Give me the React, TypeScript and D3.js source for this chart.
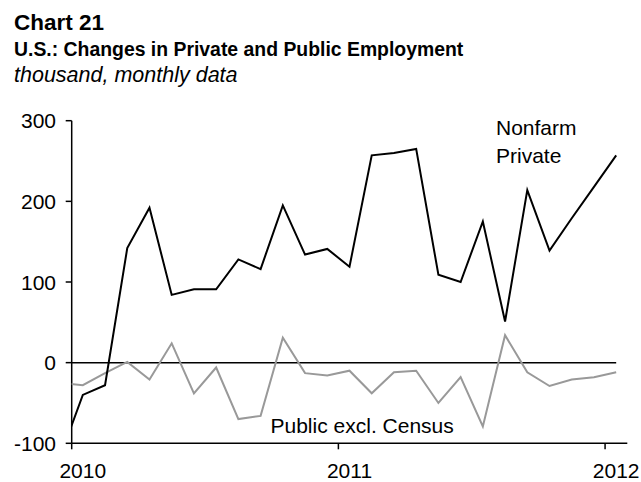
import * as React from 'react';
import * as d3 from 'd3';

// months from Dec 2009 (index -1) to Jan 2012 (index 24)
const startIndex = -1;
const privateJobs = [-115, -40, -28, 142, 192, 84, 91, 91, 128, 116, 195, 134, 141,
	119, 257, 260, 265, 109, 100, 175, 51, 214, 139, 179, 218, 257];
const publicJobs = [-25, -28, -13, 1, -21, 24, -38, -6, -70, -66, 31, -13, -16,
	-10, -38, -12, -10, -50, -18, -79, 34, -12, -29, -21, -18, -12];
const yTicks = [300, 200, 100, 0, -100];
const yearLabels = ['2010', '2011', '2012'];

const W = 641, H = 482;
const FONT = '"Liberation Sans", Arial, Helvetica, sans-serif';

const App = () => {
	const x = d3.scaleLinear().domain([-0.5, 24.5]).range([71.7, 627.3]);
	const y = d3.scaleLinear().domain([-100, 300]).range([443.3, 120.7]);

	const pts = (vals) => vals.map((v, i) => [i + startIndex, v] as [number, number]);
	const line = d3.line<[number, number]>()
		.x(d => x(d[0]))
		.y(d => y(d[1]));

	const lastIdx = privateJobs.length - 1 + startIndex;

	return (
		<svg width={W} height={H} style={{position: 'absolute', left: 0, top: 0, fontFamily: FONT}}>
			<rect width={W} height={H} fill="#fff"/>
			<defs>
				<clipPath id="plot">
					<rect x={x(-0.5)} y={0} width={W - x(-0.5)} height={H}/>
				</clipPath>
			</defs>

			<text x={14} y={29.5} fontSize={22.5} fontWeight="bold">Chart 21</text>
			<text x={14} y={55.5} fontSize={19.4} fontWeight="bold">U.S.: Changes in Private and Public Employment</text>
			<text x={14} y={82} fontSize={21.5} fontStyle="italic">thousand, monthly data</text>

			{/* y axis */}
			<line x1={x(-0.5)} x2={x(-0.5)} y1={y(300)} y2={y(-100)} stroke="#000" strokeWidth={1.5}/>
			{yTicks.map(t => (
				<g key={t}>
					<line x1={x(-0.5) - 6} x2={x(-0.5)} y1={y(t)} y2={y(t)} stroke="#000" strokeWidth={1.5}/>
					<text x={56} y={y(t) + 7.5} fontSize={21} textAnchor="end">{t}</text>
				</g>
			))}

			{/* x axis */}
			<line x1={x(-0.5)} x2={x(24.5)} y1={y(-100)} y2={y(-100)} stroke="#000" strokeWidth={1.5}/>
			{yearLabels.map((lab, i) => (
				<g key={lab}>
					<line x1={x(i * 12 - 0.5)} x2={x(i * 12 - 0.5)} y1={y(-100)} y2={y(-100) + 6} stroke="#000" strokeWidth={1.5}/>
					<text x={x(i * 12)} y={478} fontSize={21} textAnchor="middle">{lab}</text>
				</g>
			))}

			{/* zero line */}
			<line x1={x(-0.5)} x2={x(lastIdx)} y1={y(0)} y2={y(0)} stroke="#000" strokeWidth={1.5}/>

			<g clipPath="url(#plot)">
				<path d={line(pts(publicJobs))} fill="none" stroke="#999" strokeWidth={2}/>
				<path d={line(pts(privateJobs))} fill="none" stroke="#000" strokeWidth={2}/>
			</g>

			<text fontSize={21} x={496} y={135}>Nonfarm</text>
			<text fontSize={21} x={496} y={162.5}>Private</text>
			<text fontSize={21} x={270.5} y={432.5}>Public excl. Census</text>
		</svg>
	);
};

export default App;
